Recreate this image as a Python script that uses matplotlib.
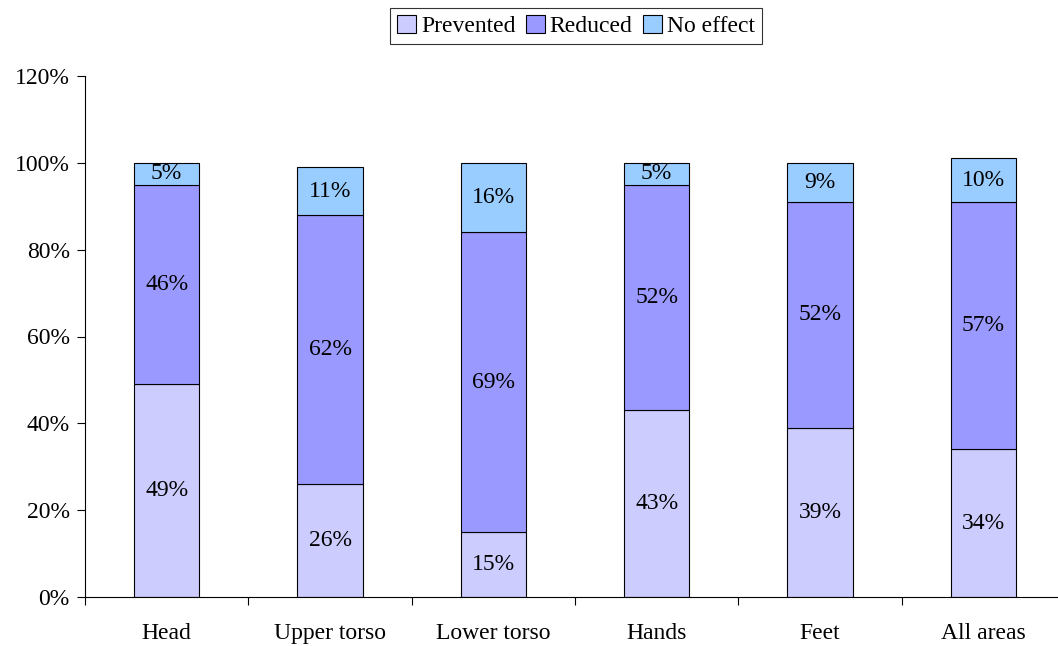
import matplotlib
matplotlib.use('Agg')
import matplotlib.pyplot as plt
import numpy as np
from matplotlib.ticker import FixedLocator, NullFormatter

plt.rcParams['font.family'] = ['Liberation Serif', 'DejaVu Serif']

categories = ['Head', 'Upper torso', 'Lower torso', 'Hands', 'Feet', 'All areas']
prevented = [49, 26, 15, 43, 39, 34]
reduced = [46, 62, 69, 52, 52, 57]
no_effect = [5, 11, 16, 5, 9, 10]

series = [('Prevented', prevented, '#CCCCFF'),
          ('Reduced', reduced, '#9999FF'),
          ('No effect', no_effect, '#99CCFF')]

FS = 17

fig = plt.figure(figsize=(10.58, 6.46), dpi=100)
ax = fig.add_axes([85 / 1058, 49 / 646, 980 / 1058, 521 / 646])

x = np.arange(len(categories))
bottom = np.zeros(len(categories))
for name, vals, color in series:
    vals = np.array(vals, dtype=float)
    ax.bar(x, vals, 0.4, bottom=bottom, color=color, edgecolor='black',
           linewidth=0.8, label=name)
    for xi, b, v in zip(x, bottom, vals):
        ax.text(xi, b + v / 2, f'{int(v)}%', ha='center', va='center', fontsize=FS)
    bottom += vals

ax.set_xlim(-0.5, len(categories) - 0.5)
ax.set_ylim(0, 120)
ax.set_yticks(np.arange(0, 121, 20))
ax.set_yticklabels([f'{v}%' for v in range(0, 121, 20)], fontsize=FS)

# category labels centred, tick marks on the boundaries
ax.set_xticks(x)
ax.set_xticklabels(categories, fontsize=FS)
ax.tick_params(axis='x', which='major', length=0, pad=19)
ax.xaxis.set_minor_locator(FixedLocator(np.arange(-0.5, len(categories), 1.0)))
ax.xaxis.set_minor_formatter(NullFormatter())
ax.tick_params(axis='x', which='minor', length=6, width=0.8, direction='out')
ax.tick_params(axis='y', length=6, width=0.8, direction='out', pad=5)

for s in ['top', 'right']:
    ax.spines[s].set_visible(False)
ax.spines['left'].set_linewidth(0.8)
ax.spines['bottom'].set_linewidth(0.8)

leg = fig.legend(loc='upper center', bbox_to_anchor=(576 / 1058, 1 - 8 / 646), ncol=3,
                 fontsize=FS, frameon=True, fancybox=False, edgecolor='black',
                 handlelength=0.8, handleheight=0.8, handletextpad=0.2,
                 columnspacing=0.45, borderpad=0.3, borderaxespad=0)
leg.get_frame().set_linewidth(0.8)

fig.savefig('out.png', dpi=100)
